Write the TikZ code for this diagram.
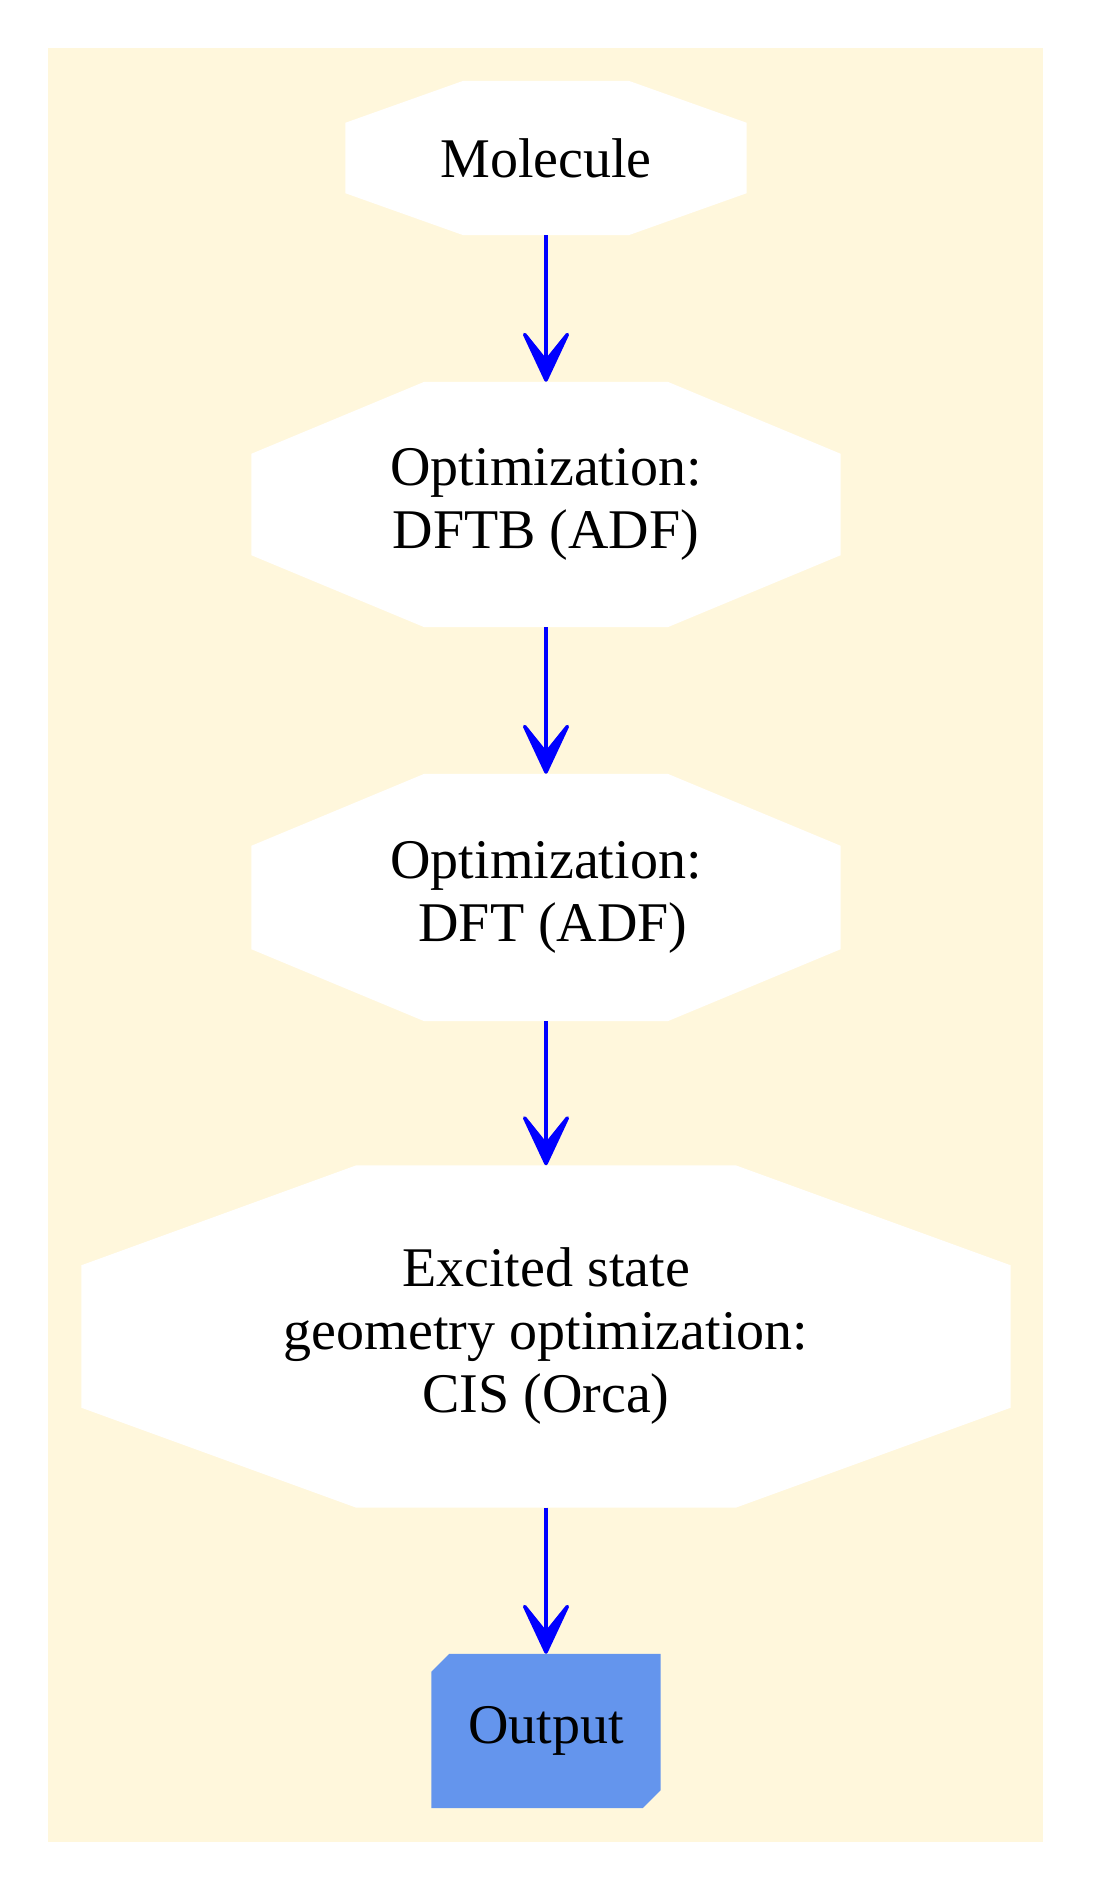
\documentclass[tikz,border=0pt]{standalone}
\usepackage{fontspec}
\setmainfont{Liberation Serif}
\usetikzlibrary{arrows.meta,calc}
\definecolor{bgc}{HTML}{FFF7DC}
\definecolor{outc}{HTML}{6495ED}
\pgfdeclarelayer{back}
\pgfdeclarelayer{mid}
\pgfsetlayers{back,mid,main}
\newcommand\octafill[3]{%
  \fill[white] ($(#1.north west)+(#2,0)$) -- ($(#1.north east)+(-#2,0)$)
    -- ($(#1.north east)+(0,#3)$) -- ($(#1.south east)+(0,-#3)$)
    -- ($(#1.south east)+(-#2,0)$) -- ($(#1.south west)+(#2,0)$)
    -- ($(#1.south west)+(0,-#3)$) -- ($(#1.north west)+(0,#3)$) -- cycle;}
\begin{document}
\begin{tikzpicture}[x=1pt,y=-1pt,
  lbl/.style={inner sep=0pt, align=center, font=\fontsize{56}{63}\selectfont},
  conn/.style={draw=blue, line width=3.5pt, line join=round,
    -{Stealth[length=62pt,width=58pt,inset=36pt,round]}},
]
\useasboundingbox (0,0) rectangle (1092,1889);
\node[lbl, minimum width=401pt, minimum height=154pt] (mol) at (546,158) {Molecule};
\node[lbl, minimum width=589pt, minimum height=245pt] (dftb) at (546,504.5) {Optimization:\\DFTB (ADF)};
\node[lbl, minimum width=589pt, minimum height=247pt] (dft) at (546,897.5) {Optimization:\\\mbox{}\ DFT (ADF)};
\node[lbl, minimum width=929pt, minimum height=342pt] (exc) at (546,1336.5) {Excited state\\geometry optimization:\\CIS (Orca)};
\node[lbl, minimum width=229pt, minimum height=154pt] (out) at (546,1731) {Output};
\begin{pgfonlayer}{back}
  \fill[bgc] (48,48) rectangle (1043,1842);
\end{pgfonlayer}
\begin{pgfonlayer}{mid}
  \octafill{mol}{118}{42}
  \octafill{dftb}{173}{72}
  \octafill{dft}{173}{72}
  \octafill{exc}{275}{100}
  \fill[outc] ($(out.north west)+(18,0)$) -- (out.north east)
    -- ($(out.south east)+(0,-18)$) -- ($(out.south east)+(-18,0)$)
    -- (out.south west) -- ($(out.north west)+(0,18)$) -- cycle;
\end{pgfonlayer}
\draw[conn] (mol.south) -- (dftb.north);
\draw[conn] (dftb.south) -- (dft.north);
\draw[conn] (dft.south) -- (exc.north);
\draw[conn] (exc.south) -- (out.north);
\end{tikzpicture}
\end{document}
